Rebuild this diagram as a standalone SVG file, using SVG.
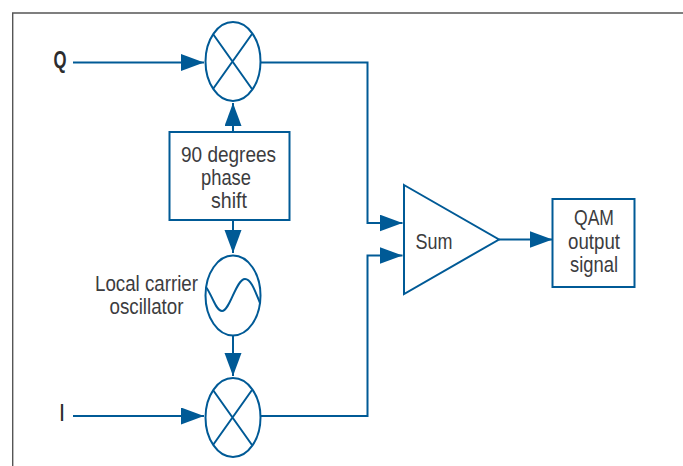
<svg xmlns="http://www.w3.org/2000/svg" width="683" height="466" viewBox="0 0 683 466">
<style>
.s{fill:none;stroke:#005a96;stroke-width:2}
.n{fill:#fff;stroke:#005a96;stroke-width:2}
text{font-family:"Liberation Sans",Arial,sans-serif;font-size:22px;fill:#3c3c3e;text-anchor:middle}
.b{font-weight:bold;fill:#2c2c2e;font-size:23px}
</style>
<defs>
<marker id="a" markerUnits="userSpaceOnUse" markerWidth="23" markerHeight="18" refX="23" refY="8.5" orient="auto"><path d="M0 0L23 8.5L0 17Z" fill="#005a96"/></marker>
</defs>
<rect width="683" height="466" fill="#fff"/>
<path d="M683 13H12.7V466" fill="none" stroke="#555" stroke-width="1.4"/>
<g id="connectors">
<path class="s" d="M73 62.500H204" marker-end="url(#a)"/>
<path class="s" d="M233 132V103" marker-end="url(#a)"/>
<path class="s" d="M233 220V253" marker-end="url(#a)"/>
<path class="s" d="M233 335V376" marker-end="url(#a)"/>
<path class="s" d="M73 416H204" marker-end="url(#a)"/>
<path class="s" d="M261 62.500H367.500V223H402.500" marker-end="url(#a)"/>
<path class="s" d="M261 416H367.500V255.500H402.500" marker-end="url(#a)"/>
<path class="s" d="M499 239.500H552.500" marker-end="url(#a)"/>
</g>
<g id="label-q"><text class="b" x="60" y="68" textLength="13" lengthAdjust="spacingAndGlyphs">Q</text></g>
<g id="label-i"><text class="b" x="62" y="421" textLength="4" lengthAdjust="spacingAndGlyphs">I</text></g>
<g id="mixer-q">
<ellipse class="n" cx="233" cy="61.500" rx="27.500" ry="39.500"/>
<path class="s" d="M213 34L252 89M252 34L213 89"/>
</g>
<g id="phase-shift">
<rect class="n" x="169.500" y="132" width="120" height="88"/>
<text x="228.500" y="161.500" textLength="95" lengthAdjust="spacingAndGlyphs">90 degrees</text>
<text x="226" y="185" textLength="50" lengthAdjust="spacingAndGlyphs">phase</text>
<text x="229" y="208" textLength="36" lengthAdjust="spacingAndGlyphs">shift</text>
</g>
<g id="oscillator">
<text x="146.500" y="290.500" textLength="103" lengthAdjust="spacingAndGlyphs">Local carrier</text>
<text x="146.500" y="314" textLength="74" lengthAdjust="spacingAndGlyphs">oscillator</text>
<ellipse class="n" cx="233" cy="295.500" rx="27.500" ry="40"/>
<path class="s" d="M206 287C213 297 216 311 222 311C230 311 236 279 245 279C251 279 255 291 260 303"/>
</g>
<g id="mixer-i">
<ellipse class="n" cx="233" cy="417.500" rx="27.500" ry="39.500"/>
<path class="s" d="M213 390L252 445M252 390L213 445"/>
</g>
<g id="sum">
<path class="n" d="M404 185L499 239.500L404 294Z"/>
<text x="434" y="249" textLength="37" lengthAdjust="spacingAndGlyphs">Sum</text>
</g>
<g id="output">
<rect class="n" x="552.500" y="199" width="82" height="88"/>
<text x="594" y="225" textLength="40" lengthAdjust="spacingAndGlyphs">QAM</text>
<text x="594" y="249" textLength="52" lengthAdjust="spacingAndGlyphs">output</text>
<text x="594" y="272" textLength="48" lengthAdjust="spacingAndGlyphs">signal</text>
</g>
</svg>
